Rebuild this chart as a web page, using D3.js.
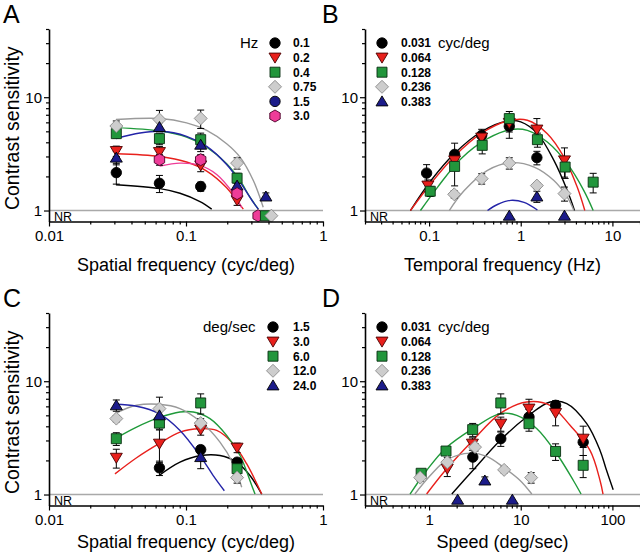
<!DOCTYPE html>
<html><head><meta charset="utf-8">
<script src="https://cdn.jsdelivr.net/npm/d3@7"></script>
<style>body{margin:0;background:#fff}</style>
</head><body>
<svg id="c" width="640" height="554" xmlns="http://www.w3.org/2000/svg"></svg>
<script>
// ---------------- DATA ----------------
const csTicks = [1, 10];
const csMinor = [2,3,4,5,6,7,8,9,20,30,40];
const sfTicks = [0.01, 0.1, 1];
const tfTicks = [0.1, 1, 10];
const spTicks = [1, 10, 100];
const NR_LEVEL = 0.9;

// Panel A: spatial frequency tuning at each temporal frequency (Hz)
const aSeries = ["0.1","0.2","0.4","0.75","1.5","3.0"];
const aPoints = [
  [[0.031,2.16,0.45],[0.064,1.74,0.3],[0.128,1.63,0.15]],
  [[0.031,3.35,0.35],[0.064,3.28,0.4],[0.128,2.5,0.3],[0.236,1.23,0.12]],
  [[0.031,4.77,0.4],[0.064,4.31,0.5],[0.128,4.22,0.6],[0.236,1.93,0.2]],
  [[0.031,5.57,0.6],[0.064,6.35,1.3],[0.128,6.5,1.2],[0.236,2.62,0.3]],
  [[0.031,2.93,0.4],[0.064,5.46,0.5],[0.128,3.81,0.5],[0.236,1.66,0.15],[0.383,1.33,0.1]],
  [[0.064,2.81,0.3],[0.128,2.81,0.3],[0.236,1.41,0.15]]
];
const aNR = [[5,0.336],[2,0.38],[3,0.42]];
const aFits = [
  [[0.0308,1.69],[0.0646,1.56],[0.0904,1.42],[0.1265,1.2],[0.154,1.03]],
  [[0.0308,3.17],[0.0646,3.0],[0.101,2.68],[0.1417,2.23],[0.198,1.59],[0.234,1.23],[0.262,1.03]],
  [[0.0308,5.39],[0.0646,5.03],[0.101,4.45],[0.1417,3.63],[0.198,2.59],[0.248,1.84],[0.293,1.31],[0.337,1.03]],
  [[0.0308,6.35],[0.0646,6.48],[0.101,5.93],[0.1417,5.1],[0.198,3.89],[0.248,2.96],[0.31,1.84],[0.366,1.07]],
  [[0.0308,4.31],[0.0461,4.83],[0.0646,5.0],[0.101,4.52],[0.1417,3.68],[0.198,2.55],[0.248,1.78],[0.31,1.18],[0.337,1.03]],
  [[0.0646,2.47],[0.0904,2.62],[0.1265,2.5],[0.1675,2.08],[0.221,1.42],[0.255,1.06]]
];

// Panel B: temporal frequency tuning at each spatial frequency (cyc/deg)
const bSeries = ["0.031","0.064","0.128","0.236","0.383"];
const bPoints = [
  [[0.094,2.14,0.4],[0.19,3.13,0.8],[0.375,4.61,0.6],[0.75,5.54,1.2],[1.5,2.93,0.4]],
  [[0.097,1.66,0.2],[0.19,2.77,0.3],[0.375,4.4,0.5],[0.75,5.93,1.0],[1.5,5.18,1.3],[3.0,2.77,0.8]],
  [[0.103,1.48,0.15],[0.19,2.45,0.8],[0.38,3.76,0.6],[0.75,6.48,1.0],[1.52,4.22,0.6],[3.05,2.42,0.5],[6.17,1.78,0.35]],
  [[0.188,1.39,0.1],[0.375,1.91,0.2],[0.75,2.62,0.3],[1.5,1.66,0.1],[3.0,1.41,0.2]],
  [[1.5,1.33,0.15]]
];
const bNR = [[4,0.75],[4,3.0]];
const bFits = [
  [[0.0626,1.0],[0.105,1.84],[0.188,3.17],[0.367,4.93],[0.717,6.17],[1.0,6.05],[1.52,4.77],[2.30,2.77],[3.22,1.50],[3.86,1.0]],
  [[0.0626,1.0],[0.105,1.74],[0.188,3.0],[0.367,4.77],[0.717,6.17],[1.18,6.26],[1.95,4.77],[2.96,2.96],[4.13,1.61],[5.0,1.0]],
  [[0.0805,1.0],[0.124,1.61],[0.223,2.87],[0.434,4.31],[0.778,5.18],[1.18,5.1],[1.95,4.02],[3.22,2.59],[4.88,1.50],[6.17,1.0]],
  [[0.166,1.0],[0.242,1.50],[0.434,2.26],[0.778,2.64],[1.40,2.42],[2.30,1.84],[3.22,1.31],[3.80,1.0]],
  [[0.434,1.0],[0.557,1.13],[0.778,1.23],[1.087,1.18],[1.52,1.01]]
];

// Panel C: spatial frequency tuning at each speed (deg/sec)
const cSeries = ["1.5","3.0","6.0","12.0","24.0"];
const cPoints = [
  [[0.064,1.72,0.25],[0.128,2.49,0.2],[0.236,1.93,0.15]],
  [[0.031,2.11,0.4],[0.064,2.81,0.9],[0.128,3.74,0.4],[0.236,2.59,0.25]],
  [[0.031,3.11,0.4],[0.064,4.27,0.5],[0.128,6.43,1.3],[0.236,1.69,0.15]],
  [[0.031,4.68,0.3],[0.064,5.73,1.5],[0.128,4.27,0.4],[0.236,1.41,0.15]],
  [[0.031,6.13,0.7],[0.064,5.0,0.8],[0.128,2.14,0.45]]
];
const cNR = [];
const cFits = [
  [[0.0635,1.47],[0.0904,1.93],[0.1286,2.21],[0.177,2.21],[0.234,1.93],[0.293,1.47],[0.357,1.01]],
  [[0.0303,1.52],[0.0436,2.11],[0.0635,2.81],[0.0904,3.56],[0.1265,3.81],[0.1675,3.68],[0.221,2.81],[0.277,1.87],[0.357,1.01]],
  [[0.0303,3.11],[0.0436,3.94],[0.0635,4.77],[0.0904,5.35],[0.113,5.35],[0.1496,4.68],[0.198,3.33],[0.248,2.21],[0.302,1.20],[0.319,1.01]],
  [[0.0303,5.18],[0.0436,6.13],[0.0635,6.26],[0.0904,5.73],[0.1286,4.36],[0.177,2.90],[0.221,1.87],[0.255,1.16]],
  [[0.0303,6.26],[0.0436,6.01],[0.0635,5.18],[0.0904,3.68],[0.1286,2.14],[0.158,1.47],[0.1905,1.08]]
];

// Panel D: speed tuning at each spatial frequency (cyc/deg)
const dSeries = ["0.031","0.064","0.128","0.236","0.383"];
const dPoints = [
  [[3.0,2.14,0.45],[6.06,3.11,0.45],[12.3,4.83,0.8],[24,6.13,0.6],[48,2.90,0.3]],
  [[1.58,1.69,0.25],[2.97,2.81,0.35],[6.06,4.22,0.6],[12.3,5.73,1.2],[24,5.24,1.2],[48,3.11,0.9]],
  [[0.82,1.54,0.12],[1.53,2.42,0.15],[2.99,3.74,0.5],[6.06,6.43,1.3],[12.3,4.22,0.6],[24,2.40,0.4],[48,1.81,0.4]],
  [[0.80,1.41,0.1],[1.58,1.93,0.2],[3.17,2.62,0.2],[6.59,1.65,0.1],[13.0,1.41,0.15]],
  [[4.06,1.33,0.1]]
];
const dNR = [[4,2.05],[4,8.1]];
const dFits = [
  [[1.77,1.01],[3.0,1.63],[5.95,3.0],[11.6,4.83],[20.9,6.56],[31.8,6.35],[52.5,4.22],[73.3,2.45],[85,1.7],[102,1.1]],
  [[0.94,1.01],[1.50,1.63],[3.0,3.0],[5.95,5.18],[11.6,6.56],[20.9,6.13],[34.5,4.08],[57.0,2.45],[73.3,1.33],[79,1.01]],
  [[0.62,1.01],[0.94,1.63],[1.50,2.54],[3.0,3.81],[5.95,5.18],[9.05,5.0],[15.0,3.81],[24.7,2.29],[37.5,1.33],[45.5,1.01]],
  [[0.70,1.01],[1.03,1.47],[1.58,2.03],[2.80,2.32],[4.26,2.17],[6.47,1.74],[9.84,1.33],[13.2,1.01]]
];

// ---------------- STYLE ----------------
const FONT = "Arial, 'Liberation Sans', Helvetica, sans-serif";
const styles = {
  black:{fill:"#000",stroke:"#000",line:"#000"},
  red:{fill:"#e8201c",stroke:"#4a0000",line:"#e8201c"},
  green:{fill:"#22963c",stroke:"#0a3012",line:"#1f9a3a"},
  gray:{fill:"#cdcdcd",stroke:"#8a8a8a",line:"#9a9a9a"},
  blue:{fill:"#1c1c8a",stroke:"#000",line:"#2424a8"},
  pink:{fill:"#ee3c98",stroke:"#4a0028",line:"#ee3c98"}
};
const shapes = {
  circle: "M0,-5.2A5.2,5.2 0 1,1 0,5.2A5.2,5.2 0 1,1 0,-5.2Z",
  triDown: "M-6,-4.5L6,-4.5L0,5.5Z",
  triUp: "M-6,4.5L6,4.5L0,-5.5Z",
  square: "M-5,-5L5,-5L5,5L-5,5Z",
  diamond: "M0,-6.5L6.5,0L0,6.5L-6.5,0Z",
  hex: "M0,-6L5.2,-3L5.2,3L0,6L-5.2,3L-5.2,-3Z"
};
const fiveStyles = [["circle","black"],["triDown","red"],["square","green"],["diamond","gray"],["triUp","blue"]];
const sixStyles = fiveStyles.concat([["hex","pink"]]);

const svg = d3.select("#c");

function marker(g, shape, col, cx, cy) {
  g.append("path").attr("d", shapes[shape]).attr("transform", `translate(${cx},${cy})`)
    .attr("fill", styles[col].fill).attr("stroke", styles[col].stroke).attr("stroke-width", 0.9);
}

function minorsFor(domain) {
  const out = [];
  for (let e = Math.floor(Math.log10(domain[0])); e <= Math.ceil(Math.log10(domain[1])); e++) {
    for (let k = 2; k <= 9; k++) {
      const v = k * Math.pow(10, e);
      if (v >= domain[0] * 0.999 && v <= domain[1] * 1.001) out.push(v);
    }
  }
  return out;
}

function drawPanel(p) {
  const g = svg.append("g");
  const x = d3.scaleLog().domain(p.xDomain).range([p.left, p.right]);
  const y = d3.scaleLog().domain([0.8, 40]).range([p.bottom, p.top]);

  // NR baseline
  g.append("line").attr("x1", p.left).attr("x2", p.right).attr("y1", y(1)).attr("y2", y(1))
    .attr("stroke", "#a9a9a9").attr("stroke-width", 1.4);
  g.append("text").attr("x", p.left + 5).attr("y", p.bottom - 1).text("NR")
    .attr("font-family", FONT).attr("font-size", 12.5).attr("fill", "#000");

  // fits
  const line = d3.line().x(d => x(d[0])).y(d => y(d[1])).curve(d3.curveCatmullRom.alpha(0.5));
  p.fits.forEach((f, i) => {
    g.append("path").attr("d", line(f)).attr("fill", "none")
      .attr("stroke", styles[p.styles[i][1]].line).attr("stroke-width", 1.4);
  });

  // error bars
  p.points.forEach(s => s.forEach(d => {
    const xx = x(d[0]), y1 = y(d[1] + d[2]), y2 = y(Math.max(d[1] - d[2], 0.81));
    g.append("line").attr("x1", xx).attr("x2", xx).attr("y1", y1).attr("y2", y2).attr("stroke", "#000").attr("stroke-width", 1);
    [y1, y2].forEach(yy => g.append("line").attr("x1", xx - 3.5).attr("x2", xx + 3.5).attr("y1", yy).attr("y2", yy).attr("stroke", "#000").attr("stroke-width", 1));
  }));

  // markers
  p.points.forEach((s, i) => s.forEach(d => marker(g, p.styles[i][0], p.styles[i][1], x(d[0]), y(d[1]))));
  p.nr.forEach(d => marker(g, p.styles[d[0]][0], p.styles[d[0]][1], x(d[1]), y(NR_LEVEL)));

  // axes
  const ax = g.append("g").attr("transform", `translate(0,${p.bottom})`)
    .call(d3.axisBottom(x).tickValues(p.xTicks).tickFormat(d => String(d)).tickSize(5).tickSizeOuter(0));
  g.append("g").attr("transform", `translate(0,${p.bottom})`)
    .call(d3.axisBottom(x).tickValues(minorsFor(p.xDomain)).tickFormat("").tickSize(3).tickSizeOuter(0))
    .select(".domain").remove();
  const ay = g.append("g").attr("transform", `translate(${p.left},0)`)
    .call(d3.axisLeft(y).tickValues(csTicks).tickFormat(d => String(d)).tickSize(5).tickSizeOuter(0));
  g.append("g").attr("transform", `translate(${p.left},0)`)
    .call(d3.axisLeft(y).tickValues(csMinor).tickFormat("").tickSize(3).tickSizeOuter(0))
    .select(".domain").remove();
  g.selectAll(".domain").attr("stroke-width", 1.6);
  g.selectAll(".tick line").attr("stroke-width", 1.2);
  ax.selectAll("text").attr("font-family", FONT).attr("font-size", 15).attr("y", 8.5).attr("fill", "#000");
  ay.selectAll("text").attr("font-family", FONT).attr("font-size", 15).attr("x", -7).attr("fill", "#000");

  // titles
  g.append("text").attr("x", (p.left + p.right) / 2).attr("y", p.titleY).attr("text-anchor", "middle")
    .attr("font-family", FONT).attr("font-size", 18).text(p.xTitle);
  if (p.yTitle) {
    g.append("text").attr("transform", `translate(19,${(p.top + p.bottom) / 2 + 3}) rotate(-90)`)
      .attr("text-anchor", "middle").attr("font-family", FONT).attr("font-size", 19.5).text(p.yTitle);
  }
  g.append("text").attr("x", p.letterX).attr("y", p.top - 6).attr("font-family", FONT).attr("font-size", 25).text(p.letter);

  // legend
  const L = p.legend;
  p.series.forEach((lab, i) => {
    const cy = L.y0 + i * L.dy;
    const st = (L.override && L.override[i]) || p.styles[i];
    marker(g, st[0], st[1], L.symX, cy);
    g.append("text").attr("x", L.labX).attr("y", cy + 4.3).attr("font-family", FONT)
      .attr("font-size", 12).attr("font-weight", "bold").text(lab);
  });
  g.append("text").attr("x", L.headX).attr("y", L.y0 + 5.3).attr("font-family", FONT)
    .attr("font-size", 15).text(L.head);
}

drawPanel({letter:"A", letterX:3, left:49, right:323, top:29, bottom:221.5, titleY:271, xDomain:[0.01,1], xTicks:sfTicks,
  xTitle:"Spatial frequency (cyc/deg)", yTitle:"Contrast sensitivity", series:aSeries, styles:sixStyles,
  points:aPoints, nr:aNR, fits:aFits,
  legend:{y0:43, dy:14.6, symX:275, labX:293, headX:240, head:"Hz", override:{4:["circle","blue"]}}});
drawPanel({letter:"B", letterX:322, left:365, right:640, top:29, bottom:221.5, titleY:271, xDomain:[0.02,20], xTicks:tfTicks,
  xTitle:"Temporal frequency (Hz)", yTitle:null, series:bSeries, styles:fiveStyles,
  points:bPoints, nr:bNR, fits:bFits,
  legend:{y0:43, dy:14.6, symX:382, labX:401, headX:438, head:"cyc/deg"}});
drawPanel({letter:"C", letterX:3, left:49, right:323, top:313, bottom:505.5, titleY:548, xDomain:[0.01,1], xTicks:sfTicks,
  xTitle:"Spatial frequency (cyc/deg)", yTitle:"Contrast sensitivity", series:cSeries, styles:fiveStyles,
  points:cPoints, nr:cNR, fits:cFits,
  legend:{y0:327, dy:14.6, symX:273, labX:293, headX:203, head:"deg/sec"}});
drawPanel({letter:"D", letterX:322, left:365, right:640, top:313, bottom:505.5, titleY:548, xDomain:[0.2,200], xTicks:spTicks,
  xTitle:"Speed (deg/sec)", yTitle:null, series:dSeries, styles:fiveStyles,
  points:dPoints, nr:dNR, fits:dFits,
  legend:{y0:327, dy:14.6, symX:382, labX:401, headX:438, head:"cyc/deg"}});
</script>
</body></html>
